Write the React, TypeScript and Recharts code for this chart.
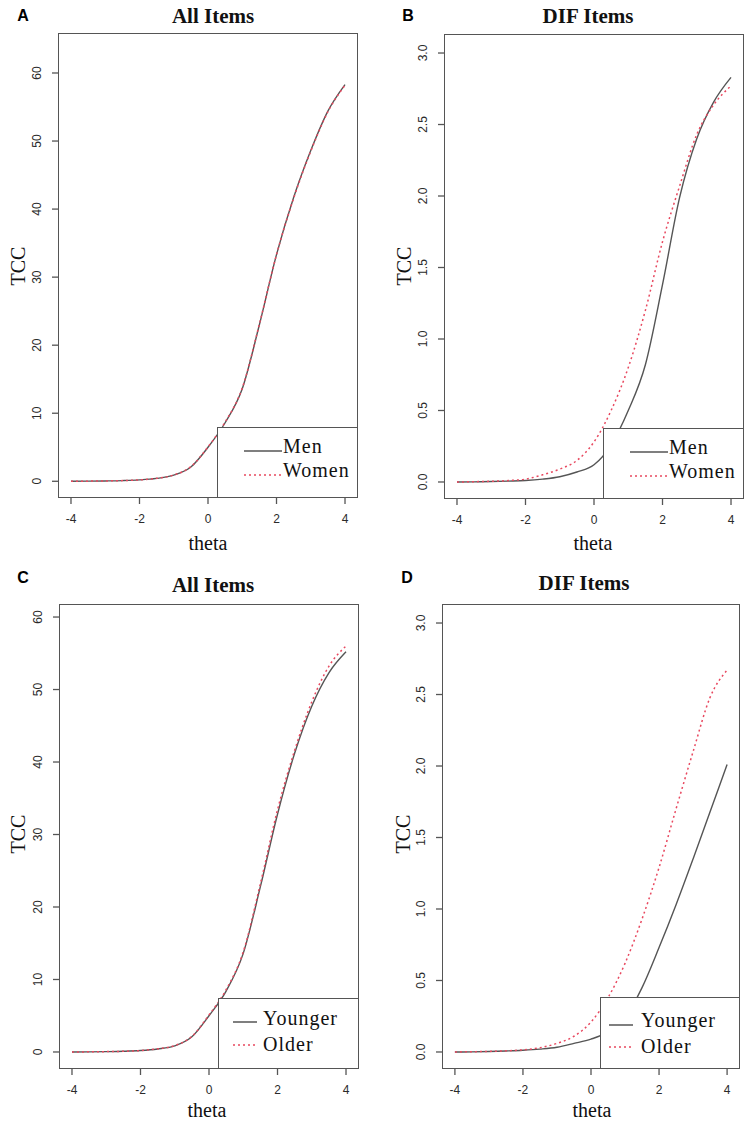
import React from "react"
import { LineChart, Line, XAxis, YAxis } from "recharts"

// theta grid shared by every panel
const theta = [-4, -3.5, -3, -2.5, -2, -1.5, -1, -0.5, 0, 0.5, 1, 1.5, 2, 2.5, 3, 3.5, 4]

// A: all items, sex
const allMen = [0, 0.02, 0.05, 0.1, 0.2, 0.42, 0.9, 2.1, 5.0, 8.6, 13.6, 23.0, 33.3, 41.7, 48.6, 54.4, 58.3]
const allWomen = [0, 0.02, 0.05, 0.1, 0.21, 0.43, 0.92, 2.15, 5.05, 8.7, 13.7, 23.1, 33.3, 41.6, 48.5, 54.3, 58.2]
// B: DIF items, sex
const difMen = [0, 0.001, 0.003, 0.006, 0.01, 0.02, 0.037, 0.07, 0.12, 0.26, 0.5, 0.82, 1.38, 1.99, 2.4, 2.66, 2.83]
const difWomen = [0, 0.002, 0.005, 0.01, 0.02, 0.05, 0.09, 0.15, 0.28, 0.5, 0.8, 1.2, 1.68, 2.07, 2.43, 2.64, 2.77]
// C: all items, age
const allYounger = [0, 0.02, 0.05, 0.1, 0.2, 0.42, 0.85, 2.1, 5.0, 8.4, 13.6, 22.8, 32.8, 41.2, 47.7, 52.3, 55.2]
const allOlder = [0, 0.02, 0.05, 0.1, 0.2, 0.43, 0.88, 2.15, 5.1, 8.6, 13.8, 23.2, 33.4, 41.6, 48.3, 53.2, 56.0]
// D: DIF items, age
const difYounger = [0, 0.001, 0.003, 0.007, 0.012, 0.02, 0.033, 0.06, 0.09, 0.14, 0.24, 0.45, 0.73, 1.03, 1.35, 1.68, 2.01]
const difOlder = [0, 0.002, 0.004, 0.008, 0.015, 0.03, 0.06, 0.11, 0.21, 0.38, 0.62, 0.93, 1.29, 1.7, 2.1, 2.48, 2.67]

const xTicks = [-4, -2, 0, 2, 4]
const allTicks = [0, 10, 20, 30, 40, 50, 60]
const difTicks = [0, 0.5, 1, 1.5, 2, 2.5, 3]

const SERIF = '"Liberation Serif", "Times New Roman", serif'
const SANS = '"Liberation Sans", Arial, sans-serif'
const INK = "#555"
const RED = "#e8485f"

type Panel = {
  letter: string
  title: string
  names: [string, string]
  s1: number[]
  s2: number[]
  yTicks: number[]
  yDomain: [number, number]
  dec: number
  // layout, page px
  ox: number
  oy: number
  w: number
  h: number
  plot: { l: number; t: number; r: number; b: number }
  letterAt: [number, number]
  titleAt: [number, number]
  yLabAt: [number, number]
  xLabAt: [number, number]
  leg: { l: number; t: number; x1: number; x2: number; tx: number; ty: [number, number]; ly: [number, number] }
}

const panels: Panel[] = [
  {
    letter: "A", title: "All Items", names: ["Men", "Women"], s1: allMen, s2: allWomen,
    yTicks: allTicks, yDomain: [-2.31, 65.73], dec: 0,
    ox: 0, oy: 0, w: 376, h: 560, plot: { l: 59, t: 34, r: 357, b: 497 },
    letterAt: [23, 16], titleAt: [213, 16], yLabAt: [18, 266], xLabAt: [208, 543],
    leg: { l: 217, t: 427, x1: 244, x2: 282, tx: 283, ty: [446, 470], ly: [451, 475] },
  },
  {
    letter: "B", title: "DIF Items", names: ["Men", "Women"], s1: difMen, s2: difWomen,
    yTicks: difTicks, yDomain: [-0.112, 3.126], dec: 1,
    ox: 376, oy: 0, w: 377, h: 560, plot: { l: 445, t: 35, r: 743, b: 498 },
    letterAt: [408, 16], titleAt: [588, 16], yLabAt: [404, 266], xLabAt: [593, 543],
    leg: { l: 603, t: 428, x1: 630, x2: 668, tx: 669, ty: [447, 471], ly: [452, 476] },
  },
  {
    letter: "C", title: "All Items", names: ["Younger", "Older"], s1: allYounger, s2: allOlder,
    yTicks: allTicks, yDomain: [-2.21, 61.66], dec: 0,
    ox: 0, oy: 560, w: 376, h: 561, plot: { l: 60, t: 605, r: 358, b: 1068 },
    letterAt: [23, 578], titleAt: [213, 585], yLabAt: [18, 834], xLabAt: [207, 1110],
    leg: { l: 218, t: 998, x1: 233, x2: 257, tx: 263, ty: [1018, 1044], ly: [1022, 1045] },
  },
  {
    letter: "D", title: "DIF Items", names: ["Younger", "Older"], s1: difYounger, s2: difOlder,
    yTicks: difTicks, yDomain: [-0.112, 3.126], dec: 1,
    ox: 376, oy: 560, w: 377, h: 561, plot: { l: 443, t: 605, r: 739, b: 1068 },
    letterAt: [407, 578], titleAt: [584, 583], yLabAt: [403, 834], xLabAt: [592, 1110],
    leg: { l: 600, t: 997, x1: 609, x2: 633, tx: 641, ty: [1020, 1046], ly: [1025, 1047] },
  },
]

const AXIS_W = 30

function centered(x: number, y: number, extra: React.CSSProperties = {}, rotate = 0): React.CSSProperties {
  return {
    position: "absolute", left: x, top: y, lineHeight: 1, whiteSpace: "nowrap",
    transform: `translate(-50%, -50%)${rotate ? ` rotate(${rotate}deg)` : ""}`, ...extra,
  }
}

function PanelView({ p }: { p: Panel }) {
  const data = theta.map((t, i) => ({ theta: t, s1: p.s1[i], s2: p.s2[i] }))
  const margin = {
    top: p.plot.t - p.oy,
    bottom: p.oy + p.h - p.plot.b - AXIS_W,
    left: p.plot.l - p.ox - AXIS_W,
    right: p.ox + p.w - p.plot.r,
  }
  const tickStyle = { fontFamily: SANS, fontSize: 12, fill: "#2a2a2a" }
  const lg = p.leg
  return (
    <>
      <div style={{ position: "absolute", left: p.ox, top: p.oy }}>
        <LineChart width={p.w} height={p.h} data={data} margin={margin}>
          <XAxis
            type="number" dataKey="theta" domain={[-4.35, 4.35]} ticks={xTicks} allowDataOverflow
            height={AXIS_W} axisLine={false} tickSize={7} tickMargin={15}
            tickLine={{ stroke: INK, strokeWidth: 1.3 }}
            tick={(t: any) => (
              <text x={t.x} y={t.y} textAnchor="middle" dominantBaseline="central" style={tickStyle}>
                {t.payload.value}
              </text>
            )}
          />
          <YAxis
            type="number" domain={p.yDomain} ticks={p.yTicks} allowDataOverflow
            width={AXIS_W} axisLine={false} tickSize={7} tickMargin={15}
            tickLine={{ stroke: INK, strokeWidth: 1.3 }}
            tick={(t: any) => (
              <text x={t.x} y={t.y} textAnchor="middle" dominantBaseline="central" style={tickStyle}
                transform={`rotate(-90 ${t.x} ${t.y})`}>
                {Number(t.payload.value).toFixed(p.dec)}
              </text>
            )}
          />
          <Line type="monotone" dataKey="s1" stroke={INK} strokeWidth={1.4} dot={false} isAnimationActive={false} />
          <Line type="monotone" dataKey="s2" stroke={RED} strokeWidth={1.5} strokeDasharray="2 3" dot={false} isAnimationActive={false} />
        </LineChart>
      </div>

      {/* legend box sits over the curves, bottom-right of the plot */}
      <div style={{
        position: "absolute", left: lg.l, top: lg.t, width: p.plot.r - lg.l, height: p.plot.b - lg.t,
        background: "#fff", borderLeft: `1.5px solid ${INK}`, borderTop: `1.5px solid ${INK}`, boxSizing: "border-box",
      }} />
      <svg style={{ position: "absolute", left: 0, top: 0, overflow: "visible" }} width={1} height={1}>
        <line x1={lg.x1} x2={lg.x2} y1={lg.ly[0]} y2={lg.ly[0]} stroke={INK} strokeWidth={1.5} />
        <line x1={lg.x1} x2={lg.x2} y1={lg.ly[1]} y2={lg.ly[1]} stroke={RED} strokeWidth={1.5} strokeDasharray="2 3" />
      </svg>
      {p.names.map((n, i) => (
        <div key={n} style={{
          position: "absolute", left: lg.tx, top: lg.ty[i], transform: "translateY(-50%)", lineHeight: 1,
          fontFamily: SERIF, fontSize: 20, letterSpacing: 1, color: "#111", whiteSpace: "nowrap",
        }}>{n}</div>
      ))}

      {/* plot frame */}
      <div style={{
        position: "absolute", left: p.plot.l - 0.75, top: p.plot.t - 0.75,
        width: p.plot.r - p.plot.l + 1.5, height: p.plot.b - p.plot.t + 1.5,
        border: `1.5px solid ${INK}`, boxSizing: "border-box",
      }} />

      <div style={centered(p.letterAt[0], p.letterAt[1], { fontFamily: SANS, fontWeight: 700, fontSize: 16 })}>{p.letter}</div>
      <div style={centered(p.titleAt[0], p.titleAt[1], { fontFamily: SERIF, fontWeight: 700, fontSize: 21, color: "#111" })}>{p.title}</div>
      <div style={centered(p.yLabAt[0], p.yLabAt[1], { fontFamily: SERIF, fontSize: 20, color: "#111" }, -90)}>TCC</div>
      <div style={centered(p.xLabAt[0], p.xLabAt[1], { fontFamily: SERIF, fontSize: 20, color: "#111" })}>theta</div>
    </>
  )
}

export default function App() {
  return (
    <div style={{ position: "absolute", left: 0, top: 0, width: 753, height: 1121, background: "#fff", overflow: "hidden" }}>
      {panels.map((p) => (
        <PanelView key={p.letter} p={p} />
      ))}
    </div>
  )
}
